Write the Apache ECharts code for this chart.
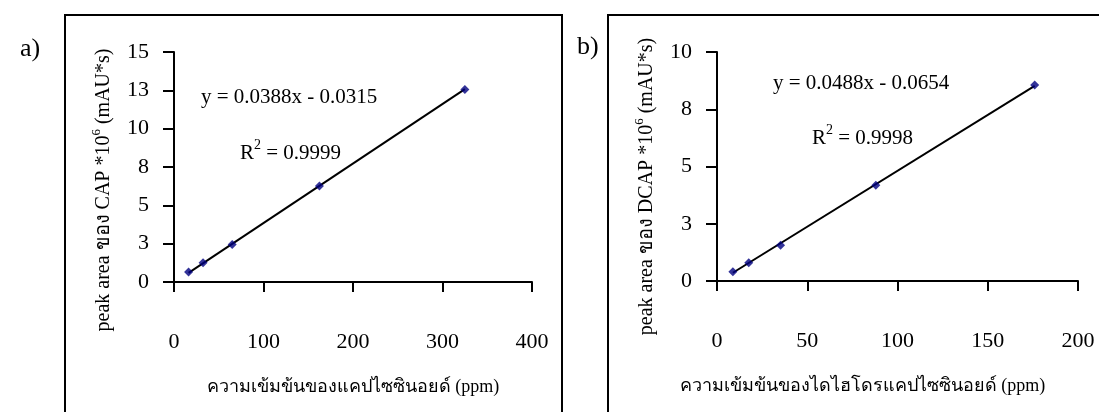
<!DOCTYPE html>
<html>
<head>
<meta charset="utf-8">
<script src="https://cdn.jsdelivr.net/npm/echarts@6/dist/echarts.min.js"></script>
<style>
  html, body { margin: 0; padding: 0; background: #fff; }
  #chart { width: 1099px; height: 412px; }
</style>
</head>
<body>
<div id="chart"></div>
<script>
  // panel a: capsaicin (CAP)
  var capX = [16.3, 32.5, 65, 162.5, 325];
  var capY = [0.65, 1.26, 2.45, 6.26, 12.55];
  var capTrend = [[16.3, 0.60], [325, 12.58]];

  // panel b: dihydrocapsaicin (DCAP)
  var dcapX = [8.8, 17.6, 35.2, 88, 176];
  var dcapY = [0.40, 0.80, 1.56, 4.18, 8.56];
  var dcapTrend = [[8.8, 0.36], [176, 8.52]];

  var capXTicks = [0, 400, 100];
  var capYTicks = [0, 15, 2.5];
  var dcapXTicks = [0, 200, 50];
  var dcapYTicks = [0, 10, 2.5];

  var font = "'Liberation Serif', 'Times New Roman', serif";

  function pairs (xs, ys) {
    return xs.map(function (x, i) { return [x, ys[i]]; });
  }

  function xAxisOf (ticks, idx, name, pad) {
    return {
      type: 'value', gridIndex: idx,
      min: ticks[0], max: ticks[1], interval: ticks[2],
      name: name, nameLocation: 'middle', nameGap: 96,
      nameTextStyle: { color: '#000', fontFamily: font, fontSize: 18, padding: pad },
      axisLine: { onZero: false, lineStyle: { color: '#000', width: 2 } },
      axisTick: { show: true, length: 10, lineStyle: { color: '#000', width: 2 } },
      axisLabel: { color: '#000', fontFamily: font, fontSize: 22, margin: 49 },
      splitLine: { show: false }
    };
  }

  function yAxisOf (ticks, idx, label, pad) {
    return {
      type: 'value', gridIndex: idx,
      min: ticks[0], max: ticks[1], interval: ticks[2],
      name: '{a|peak area ของ ' + label + ' *10}{sup|6}{a| (mAU*s)}',
      nameLocation: 'middle', nameGap: 56, nameRotate: 90,
      nameTextStyle: {
        color: '#000', fontFamily: font, padding: pad,
        rich: {
          a: { fontFamily: font, fontSize: 20, color: '#000', lineHeight: 28 },
          sup: { fontFamily: font, fontSize: 13, color: '#000', lineHeight: 28, verticalAlign: 'top' }
        }
      },
      axisLine: { show: true, onZero: false, lineStyle: { color: '#000', width: 2 } },
      axisTick: { show: true, length: 11, lineStyle: { color: '#000', width: 2 } },
      axisLabel: {
        color: '#000', fontFamily: font, fontSize: 22, margin: 25,
        formatter: function (v) { return Math.round(v); }
      },
      splitLine: { show: false }
    };
  }

  function txt (x, y, rich) {
    return {
      type: 'text', left: x, top: y,
      style: { text: rich, fontFamily: font, fontSize: 21, fill: '#000',
        rich: {
          n: { fontFamily: font, fontSize: 21, lineHeight: 30 },
          s: { fontFamily: font, fontSize: 14, lineHeight: 30, verticalAlign: 'top' }
        }
      }
    };
  }

  var chart = echarts.init(document.getElementById('chart'));
  chart.setOption({
    animation: false,
    backgroundColor: '#fff',
    grid: [
      { left: 174, top: 52, width: 358, height: 230 },
      { left: 717, top: 52, width: 361, height: 229 }
    ],
    xAxis: [
      xAxisOf(capXTicks, 0, 'ความเข้มข้นของแคปไซซินอยด์ (ppm)', [0, 0, 0, 0]),
      xAxisOf(dcapXTicks, 1, 'ความเข้มข้นของไดไฮโดรแคปไซซินอยด์ (ppm)', [0, 70, 0, 0])
    ],
    yAxis: [
      yAxisOf(capYTicks, 0, 'CAP', [0, 46, 0, 0]),
      yAxisOf(dcapYTicks, 1, 'DCAP', [0, 40, 0, 0])
    ],
    series: [
      { type: 'line', xAxisIndex: 0, yAxisIndex: 0, data: capTrend, symbol: 'none',
        lineStyle: { color: '#000', width: 2 }, silent: true },
      { type: 'scatter', xAxisIndex: 0, yAxisIndex: 0, data: pairs(capX, capY),
        symbol: 'diamond', symbolSize: 9, itemStyle: { color: '#000080' }, z: 5 },
      { type: 'line', xAxisIndex: 1, yAxisIndex: 1, data: dcapTrend, symbol: 'none',
        lineStyle: { color: '#000', width: 2 }, silent: true },
      { type: 'scatter', xAxisIndex: 1, yAxisIndex: 1, data: pairs(dcapX, dcapY),
        symbol: 'diamond', symbolSize: 9, itemStyle: { color: '#000080' }, z: 5 }
    ],
    graphic: [
      { type: 'rect', shape: { x: 65, y: 15, width: 497, height: 460 },
        style: { fill: 'none', stroke: '#000', lineWidth: 2 } },
      { type: 'rect', shape: { x: 608, y: 15, width: 600, height: 460 },
        style: { fill: 'none', stroke: '#000', lineWidth: 2 } },
      { type: 'text', left: 20, top: 36, style: { text: 'a)', fontFamily: font, fontSize: 26, fill: '#000' } },
      { type: 'text', left: 577, top: 34, style: { text: 'b)', fontFamily: font, fontSize: 26, fill: '#000' } },
      txt(201, 87, '{n|y = 0.0388x - 0.0315}'),
      txt(240, 138, '{n|R}{s|2}{n| = 0.9999}'),
      txt(773, 73, '{n|y = 0.0488x - 0.0654}'),
      txt(812, 123, '{n|R}{s|2}{n| = 0.9998}')
    ]
  });

  window.addEventListener('resize', function () {
    chart.resize();
  });
</script>
</body>
</html>
